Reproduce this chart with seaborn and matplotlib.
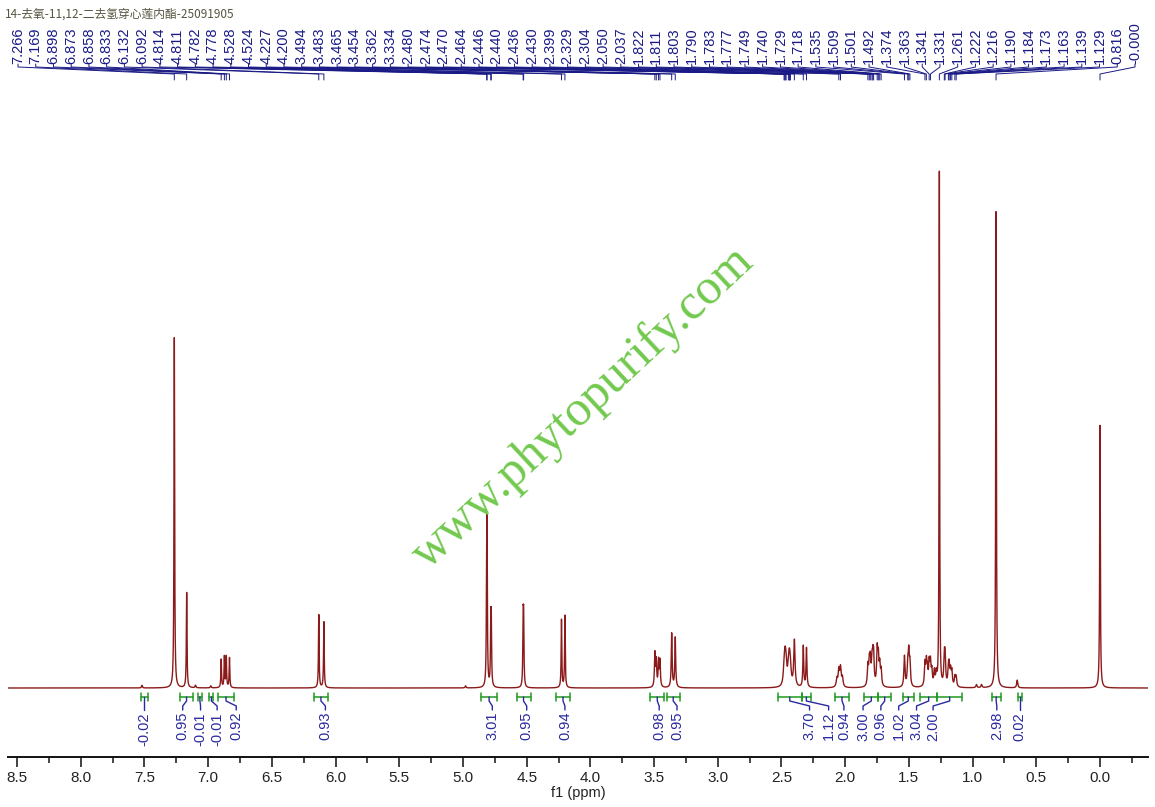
import numpy as np
import pandas as pd
import seaborn as sns
import matplotlib.pyplot as plt
from matplotlib.ticker import MultipleLocator

title = "14-去氧-11,12-二去氢穿心莲内酯-25091905"
watermark = "www.phytopurify.com"

# peak list printed above the spectrum (last one is -0.0 so it prints as "-0.000")
peak_ppm = [7.266, 7.169, 6.898, 6.873, 6.858, 6.833, 6.132, 6.092,
            4.814, 4.811, 4.782, 4.778, 4.528, 4.524, 4.227, 4.200,
            3.494, 3.483, 3.465, 3.454, 3.362, 3.334,
            2.480, 2.474, 2.470, 2.464, 2.446, 2.440, 2.436, 2.430, 2.399,
            2.329, 2.304, 2.050, 2.037,
            1.822, 1.811, 1.803, 1.790, 1.783, 1.777, 1.749, 1.740, 1.729, 1.718,
            1.535, 1.509, 1.501, 1.492, 1.374, 1.363, 1.341, 1.331, 1.261,
            1.222, 1.216, 1.190, 1.184, 1.173, 1.163, 1.139, 1.129, 0.816, -0.0]
# line heights (tallest line = 100)
peak_height = [68, 18.5, 5.5, 6.0, 6.0, 5.8, 14.2, 12.8,
               21, 21, 11, 11, 11.6, 11.6, 13.2, 14.0,
               6.5, 5.0, 5.0, 5.0, 10.5, 9.7,
               2.6, 2.8, 2.8, 3.0, 2.6, 2.6, 2.6, 2.6, 9.0,
               8.0, 7.6, 3.2, 3.6,
               3.8, 4.2, 4.6, 4.2, 4.2, 5.0, 6.8, 5.2, 3.8, 3.0,
               6.0, 4.2, 6.0, 4.2, 4.3, 4.3, 4.3, 4.3, 100,
               5.0, 5.0, 3.2, 3.2, 2.8, 2.8, 1.9, 1.9, 92.5, 51]
# line half widths (ppm)
peak_width = [0.003] * 16 + [0.004] * 6 + [0.007] * 8 + [0.006] + [0.004] * 2 + [0.006] * 2 \
    + [0.005] * 18 + [0.0025] + [0.005] * 8 + [0.003, 0.003]

# small unlabelled lines
extra_ppm = [7.52, 7.10, 6.98, 4.98, 2.065, 2.022, 1.355, 1.320, 1.300, 1.285, 0.97, 0.93, 0.65]
extra_height = [0.5, 0.5, 0.4, 0.4, 1.6, 1.8, 2.8, 2.8, 2.8, 2.3, 0.6, 0.6, 1.5]
extra_width = [0.004] * 4 + [0.006] * 2 + [0.005] * 4 + [0.005] * 3

# integrals: range (ppm), value, where the value label sits (ppm)
int_start = [7.53, 7.22, 7.08, 6.99, 6.92, 6.17, 4.86, 4.58, 4.27, 3.53, 3.40,
             2.53, 2.34, 2.08, 1.85, 1.74, 1.55, 1.41, 1.28, 0.85, 0.645]
int_end = [7.47, 7.12, 7.05, 6.96, 6.80, 6.06, 4.73, 4.47, 4.16, 3.42, 3.30,
           2.34, 2.27, 1.97, 1.74, 1.64, 1.46, 1.28, 1.08, 0.78, 0.615]
int_value = ["-0.02", "0.95", "-0.01", "-0.01", "0.92", "0.93", "3.01", "0.95", "0.94",
             "0.98", "0.95", "3.70", "1.12", "0.94", "3.00", "0.96", "1.02", "3.04",
             "2.00", "2.98", "0.02"]
int_label_ppm = [7.50, 7.20, 7.06, 6.93, 6.78, 6.08, 4.77, 4.50, 4.20, 3.46, 3.32,
                 2.28, 2.13, 2.01, 1.86, 1.72, 1.58, 1.44, 1.31, 0.81, 0.63]

# page geometry (pixels)
W, H = 1155, 807
X0, PPM_PX = 1100, 127.4   # column of 0 ppm, pixels per ppm
BASE, S = 688, 5.15        # row of baseline, pixels per intensity unit


def ppm_at(px):
    return (X0 - px) / PPM_PX


def y_at(py):
    return (BASE - py) / S


x = np.linspace(ppm_at(8), ppm_at(1148), 60000)
y = np.zeros_like(x)
for c, h, w in zip(peak_ppm + extra_ppm, peak_height + extra_height, peak_width + extra_width):
    y += h * w ** 2 / ((x - c) ** 2 + w ** 2)
df = pd.DataFrame({"ppm": x, "intensity": y})

sns.set_style("white")
plt.rcParams["font.family"] = ["Liberation Sans", "Noto Sans CJK SC"]

fig = plt.figure(figsize=(W / 100, H / 100), dpi=100)
ax = fig.add_axes([8 / W, (H - 757) / H, (1148 - 8) / W, 757 / H])

sns.lineplot(data=df, x="ppm", y="intensity", ax=ax, color="#8b1a1a",
             linewidth=1.0, estimator=None, sort=False)

ax.set_xlim(ppm_at(8), ppm_at(1148))
ax.set_ylim(y_at(757), y_at(0))

# peak labels with connectors
navy = "#1a1a86"
label_px = np.linspace(18, 1135, len(peak_ppm))
for p, lp in zip(peak_ppm, label_px):
    lx = ppm_at(lp)
    ax.text(lx, y_at(64), f"{p:.3f}", rotation=90, ha="center", va="bottom",
            fontsize=10.5, color=navy)
    ax.plot([lx, lx, p, p], [y_at(64), y_at(67), y_at(74), y_at(80)],
            color=navy, lw=0.7, clip_on=False)

# integrals
green = "#1f9a1f"
blue = "#2a2aa0"
yb = y_at(697)
d = 4 / S
for s, e, v, lp in zip(int_start, int_end, int_value, int_label_ppm):
    ax.plot([s, e], [yb, yb], color=green, lw=1.1)
    ax.plot([s, s], [yb - d, yb + d], color=green, lw=1.1)
    ax.plot([e, e], [yb - d, yb + d], color=green, lw=1.1)
    c = (s + e) / 2
    ax.plot([c, c, lp, lp], [yb, y_at(701), y_at(706), y_at(710)], color=blue, lw=1.0)
    ax.text(lp, y_at(712), v, rotation=90, ha="center", va="top", fontsize=10.5, color=blue)

# axis styling
for side in ["left", "right", "top"]:
    ax.spines[side].set_visible(False)
ax.spines["bottom"].set_linewidth(1.4)
ax.spines["bottom"].set_color("#111111")
ax.set_yticks([])
ax.set_xticks(np.arange(0, 8.51, 0.5))
ax.set_xticklabels([f"{t:.1f}" for t in np.arange(0, 8.51, 0.5)])
ax.xaxis.set_minor_locator(MultipleLocator(0.25))
ax.tick_params(axis="x", which="major", direction="out", length=7, width=1.2,
               labelsize=11, pad=3, colors="#222222", bottom=True)
ax.tick_params(axis="x", which="minor", direction="out", length=4, width=1.2, bottom=True)
ax.set_xlabel("f1 (ppm)", fontsize=10.5, labelpad=1, color="#222222")
ax.set_ylabel("")

fig.text(5 / W, 1 - 14 / H, title, fontsize=8.5, ha="left", va="center",
         color="#55553f", family=["Noto Sans CJK SC", "DejaVu Sans"])
fig.text(583 / W, 1 - 408 / H, watermark, fontsize=36, rotation=43,
         ha="center", va="center", rotation_mode="anchor",
         color="#72c94e", family="Liberation Serif")

fig.savefig("out.png", dpi=100)
